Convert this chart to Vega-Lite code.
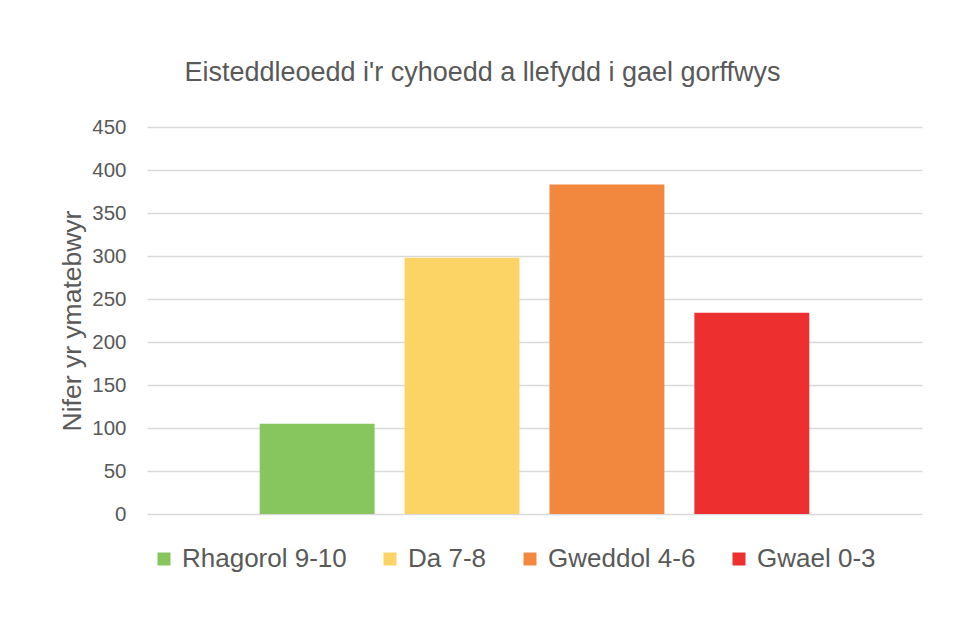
{
  "$schema": "https://vega.github.io/schema/vega-lite/v6.json",
  "width": 775,
  "height": 387,
  "autosize": {"type": "none"},
  "padding": {"left": 147, "top": 127, "right": 32, "bottom": 103},
  "background": "white",
  "title": {
    "text": "Eisteddleoedd i'r cyhoedd a llefydd i gael gorffwys",
    "font": "Liberation Sans",
    "fontSize": 27,
    "fontWeight": "normal",
    "color": "#595959",
    "anchor": "middle",
    "dx": -52,
    "offset": 30
  },
  "data": {
    "values": [
      {"category": "Rhagorol 9-10", "value": 105},
      {"category": "Da 7-8", "value": 298},
      {"category": "Gweddol 4-6", "value": 383},
      {"category": "Gwael 0-3", "value": 234}
    ]
  },
  "mark": {"type": "bar"},
  "encoding": {
    "x": {
      "field": "category",
      "type": "nominal",
      "sort": null,
      "axis": null,
      "scale": {"paddingInner": 0.207, "paddingOuter": 0.778}
    },
    "y": {
      "field": "value",
      "type": "quantitative",
      "scale": {"domain": [0, 450], "nice": false},
      "axis": {
        "values": [0, 50, 100, 150, 200, 250, 300, 350, 400, 450],
        "title": "Nifer yr ymatebwyr",
        "domain": false,
        "ticks": false,
        "gridColor": "#D9D9D9",
        "gridWidth": 1.3,
        "labelFont": "Liberation Sans",
        "labelFontSize": 20.5,
        "labelColor": "#595959",
        "labelPadding": 21,
        "titleFont": "Liberation Sans",
        "titleFontSize": 26.5,
        "titleFontWeight": "normal",
        "titleColor": "#595959",
        "titlePadding": 5
      }
    },
    "color": {
      "field": "category",
      "type": "nominal",
      "sort": null,
      "scale": {
        "domain": ["Rhagorol 9-10", "Da 7-8", "Gweddol 4-6", "Gwael 0-3"],
        "range": ["#87C65F", "#FCD466", "#F2883D", "#EE2F2F"]
      },
      "legend": {
        "title": null,
        "orient": "none",
        "direction": "horizontal",
        "legendX": 4,
        "legendY": 419,
        "symbolType": "square",
        "symbolSize": 169,
        "symbolStrokeWidth": 0,
        "labelFont": "Liberation Sans",
        "labelFontSize": 26,
        "labelColor": "#595959",
        "labelOffset": 5,
        "labelLimit": 400,
        "columnPadding": 30
      }
    }
  },
  "config": {"view": {"stroke": null}}
}
